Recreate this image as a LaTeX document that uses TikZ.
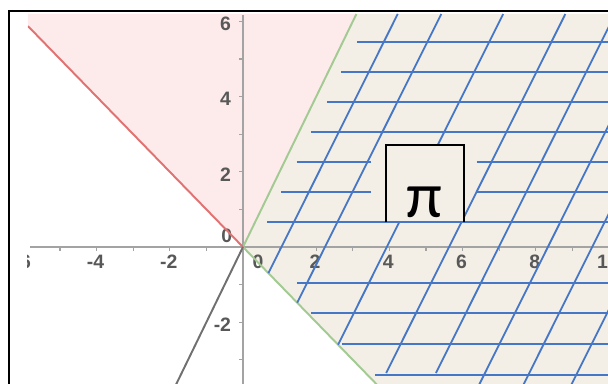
\documentclass[tikz,border=0pt]{standalone}
\usepackage{fontspec}
\setmainfont{Liberation Sans}
\newfontfamily\pifont{Carlito}
\usepackage{xcolor}
\definecolor{pinkfill}{HTML}{FDEBEB}
\definecolor{beigefill}{HTML}{F3EFE6}
\definecolor{redline}{HTML}{E07272}
\definecolor{greenline}{HTML}{A2CA92}
\definecolor{blueline}{HTML}{4676C6}
\definecolor{axisgray}{HTML}{A3A3A3}
\definecolor{darkgray}{HTML}{707070}
\definecolor{labelgray}{HTML}{585858}

\begin{document}
\begin{tikzpicture}[x=0.9944cm,y=1.0216cm,line width=1.5pt,
    axisline/.style={axisgray,line width=1.6pt},
    tickmark/.style={axisgray,line width=0.8pt},
    ticklabel/.style={labelgray,inner sep=0,font=\fontsize{15}{15}\selectfont\bfseries},
    gridline/.style={blueline,line width=1.4pt}]
	\useasboundingbox (-6.639,-3.617) rectangle (9.973,6.569);
	\coordinate (o) at (0,0);
	\coordinate (gtop) at (3.099,6.197);
	\coordinate (gbot) at (3.8,-3.8);
	\coordinate (rtop) at (-5.874,5.874);
	\coordinate (kbot) at (-1.85,-3.7);
	\draw[line width=1.5pt] (-6.393,-3.7)--(-6.393,6.277)--(10.1,6.277);
	\begin{scope}
		\clip (-5.874,-3.7) rectangle (10.1,6.197);
		\fill[pinkfill] (o)--(rtop)--(-5.874,6.197)--(gtop)--cycle;
		\fill[beigefill] (o)--(gtop)--(10.1,6.197)--(10.1,-3.7)--(gbot)--cycle;
		\draw[axisline] (-5.82,0)--(10.1,0);
		\draw[axisline] (0,-3.7)--(0,6.17);
		\foreach \x in {-5,...,10} \draw[tickmark] (\x,0)--(\x,-0.1);
		\foreach \y in {-3,...,6} \draw[tickmark] (0,\y)--(-0.1,\y);
		\foreach \x in {-6,-4,-2,2,4,6,8,10} \node[ticklabel] (lx\x) at (\x-0.03,-0.4) {\x};
		\foreach \y in {-2,2,4,6} \node[ticklabel,anchor=east] (ly\y) at (-0.3,\y-0.07) {\y};
		\node[ticklabel] (lx0) at (0.41,-0.4) {0};
		\node[ticklabel] (ly0) at (-0.44,0.29) {0};
		\draw[greenline] (o)--(gtop);
		\draw[greenline] (o)--(gbot);
		\draw[redline] (o)--(rtop);
		\draw[darkgray] (o)--(kbot);
		\foreach \c/\b in {1.05/-0.694,2.24/-1.481,3.93/-2.598,5.63/-3.35,6.99/-3.35,8.33/-3.7,9.54/-3.7,10.85/-3.7}
			\draw[gridline] ({\c+\b/1.95},\b)--({\c+6.197/1.95},6.197);
		\node[fill=beigefill,inner sep=0,minimum width=2.065cm,minimum height=2.038cm,anchor=south west] (pibox) at (3.907,0.665) {};
		\foreach \y/\s in {5.452/3.115,4.654/2.678,3.856/2.295,3.059/1.858,0.665/0.656,-0.957/1.475,-1.755/1.858,-2.580/2.705,-3.404/3.607}
			\draw[gridline] (\s,\y)--(10.1,\y);
		\foreach \y/\s in {2.261/1.462,1.463/1.052}{
			\draw[gridline] (\s,\y)--(3.497,\y);
			\draw[gridline] (6.393,\y)--(10.1,\y);}
		\draw[line width=1pt] (pibox.south west)--(pibox.north west)--(pibox.north east)--(pibox.south east);
		\node[anchor=base,inner sep=0,font=\pifont\fontsize{50}{50}\selectfont] (pi) at (4.945,0.798) {π};
	\end{scope}
\end{tikzpicture}
\end{document}
